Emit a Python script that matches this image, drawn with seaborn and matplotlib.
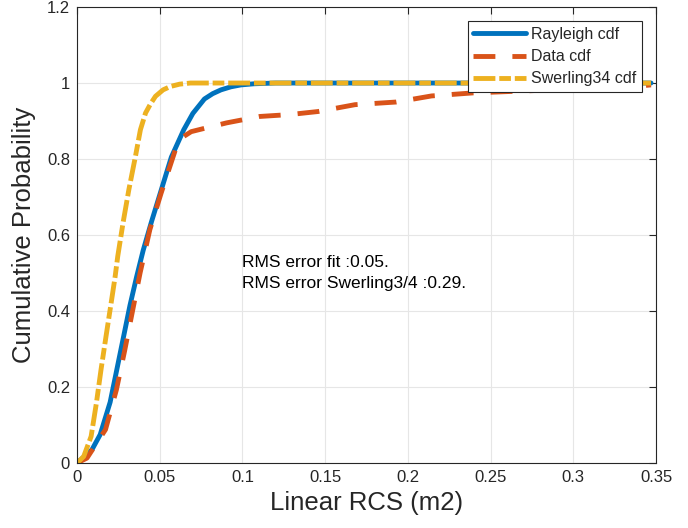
import matplotlib
matplotlib.use("Agg")
import matplotlib.pyplot as plt
from matplotlib.ticker import FuncFormatter, MultipleLocator
import numpy as np
import pandas as pd
import seaborn as sns

# Rayleigh fit CDF
rayleigh_x = [0, 0.009, 0.014, 0.020, 0.024, 0.028, 0.032, 0.036, 0.040, 0.045,
              0.051, 0.057, 0.0645, 0.070, 0.077, 0.082, 0.087, 0.093, 0.099,
              0.107, 0.120, 0.347]
rayleigh_y = [0, 0.035, 0.075, 0.16, 0.245, 0.33, 0.415, 0.49, 0.56, 0.635,
              0.72, 0.805, 0.877, 0.92, 0.958, 0.972, 0.982, 0.99, 0.995,
              0.998, 1.0, 1.0]

# Empirical CDF of the measured RCS
data_x = [0, 0.006, 0.0172, 0.0238, 0.0287, 0.0333, 0.0381, 0.044, 0.0508, 0.0595,
          0.064, 0.0690, 0.0745, 0.0903, 0.1105, 0.1286, 0.1457, 0.168, 0.193,
          0.2143, 0.2394, 0.2636, 0.2876, 0.314, 0.342, 0.347]
data_y = [0, 0.013, 0.088, 0.193, 0.294, 0.395, 0.50, 0.614, 0.71, 0.825,
          0.858, 0.872, 0.878, 0.895, 0.912, 0.917, 0.925, 0.943, 0.95,
          0.966, 0.974, 0.978, 0.982, 0.987, 0.993, 0.995]

# Swerling 3/4 model CDF
swerling_x = [0, 0.004, 0.0085, 0.0117, 0.0145, 0.0175, 0.0206, 0.023, 0.0246,
              0.0278, 0.0313, 0.0353, 0.0383, 0.0414, 0.0444, 0.0474, 0.052,
              0.0565, 0.062, 0.0686, 0.347]
swerling_y = [0, 0.017, 0.07, 0.158, 0.246, 0.333, 0.421, 0.49, 0.544,
              0.632, 0.719, 0.807, 0.877, 0.921, 0.945, 0.965, 0.982,
              0.991, 0.997, 1.0, 1.0]

series_names = ["Rayleigh cdf", "Data cdf", "Swerling34 cdf"]
rms_fit = 0.05
rms_swerling = 0.29

frames = []
for name, xs, ys in zip(series_names,
                        [rayleigh_x, data_x, swerling_x],
                        [rayleigh_y, data_y, swerling_y]):
    frames.append(pd.DataFrame({"rcs": xs, "prob": ys, "series": name,
                                "order": np.arange(len(xs))}))
df = pd.concat(frames, ignore_index=True)

sns.set_theme(style="white")
plt.rcParams["font.family"] = ["Liberation Sans", "DejaVu Sans"]

ink = "#262626"
palette = {"Rayleigh cdf": "#0072BD", "Data cdf": "#D95319", "Swerling34 cdf": "#EDB120"}
dashes = {"Rayleigh cdf": "", "Data cdf": (4.5, 3.5), "Swerling34 cdf": (4.5, 0.8, 2.4, 0.8)}

fig = plt.figure(figsize=(6.88, 5.28), dpi=100)
ax = fig.add_axes([0.112, 0.1231, 0.8415, 0.8636])

sns.lineplot(data=df, x="rcs", y="prob", hue="series", style="series",
             hue_order=series_names, style_order=series_names,
             palette=palette, dashes=dashes, linewidth=3.5,
             sort=False, estimator=None, units="series", ax=ax)

ax.set_xlim(0, 0.35)
ax.set_ylim(0, 1.2)
ax.xaxis.set_major_locator(MultipleLocator(0.05))
ax.yaxis.set_major_locator(MultipleLocator(0.2))
fmt = FuncFormatter(lambda v, p: f"{round(v, 4):g}")
ax.xaxis.set_major_formatter(fmt)
ax.yaxis.set_major_formatter(fmt)

ax.grid(True, color="#e6e6e6", linewidth=0.8)
ax.set_axisbelow(True)
for s in ax.spines.values():
    s.set_visible(True)
    s.set_color(ink)
    s.set_linewidth(0.8)
ax.tick_params(axis="both", which="major", direction="in", length=5, width=0.8,
               colors=ink, labelsize=12, top=True, right=True,
               labelcolor=ink, pad=5)

ax.set_xlabel("Linear RCS (m2)", fontsize=18.5, color=ink, labelpad=4)
ax.set_ylabel("Cumulative Probability", fontsize=18.5, color=ink, labelpad=8)

ax.text(0.1, 0.5, f"RMS error fit :{rms_fit:.2f}.\nRMS error Swerling3/4 :{rms_swerling:.2f}.",
        fontsize=12.5, color="black", ha="left", va="center", linespacing=1.45)

leg = ax.legend(loc="upper right", fontsize=11.5, frameon=True, fancybox=False,
                framealpha=1, edgecolor=ink, handlelength=3.3, handletextpad=0.3,
                borderpad=0.35, labelspacing=0.45, borderaxespad=0.9)
leg.get_frame().set_linewidth(0.8)
for line in leg.get_lines():
    line.set_linewidth(3.5)

fig.savefig("out.png", dpi=100)
